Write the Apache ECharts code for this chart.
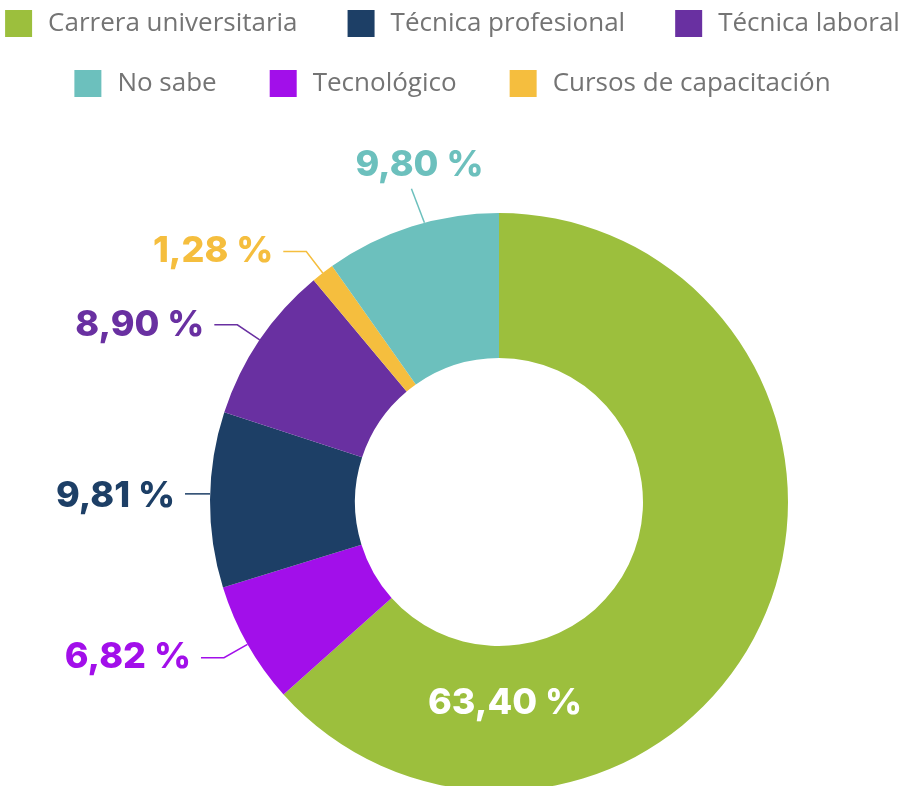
<!DOCTYPE html>
<html>
<head>
<meta charset="utf-8">
<script src="https://cdn.jsdelivr.net/npm/echarts@6/dist/echarts.min.js"></script>
<style>html,body{margin:0;padding:0;background:#fff}#c{width:905px;height:786px}</style>
</head>
<body>
<div id="c"></div>
<script>
// Data (clockwise order starting at top)
const categories = ['Carrera universitaria', 'Tecnológico', 'Técnica profesional', 'Técnica laboral', 'Cursos de capacitación', 'No sabe'];
const values = [63.40, 6.82, 9.81, 8.90, 1.28, 9.80];
const colors = ['#9CBF3D', '#A20FEA', '#1D3F66', '#6930A1', '#F5BE3E', '#6CC0BD'];
const legendRow1 = ['Carrera universitaria', 'Técnica profesional', 'Técnica laboral'];
const legendRow2 = ['No sabe', 'Tecnológico', 'Cursos de capacitación'];

const CX = 499, CY = 502, R_IN = 144, R_OUT = 289;
const fmt = v => v.toFixed(2).replace('.', ',') + ' %';

const chart = echarts.init(document.getElementById('c'), null, {renderer: 'canvas'});
const legendBase = {
  left: 'center', itemWidth: 27, itemHeight: 27, icon: 'rect',
  textStyle: {fontFamily: 'Open Sans', fontSize: 26, color: '#747474', padding: [0, 0, 0, 11]},
  selectedMode: false
};
chart.setOption({
  animation: false,
  color: colors,
  legend: [
    Object.assign({}, legendBase, {top: 5, itemGap: 50, data: legendRow1}),
    Object.assign({}, legendBase, {top: 65, itemGap: 53, data: legendRow2})
  ],
  series: [{
    type: 'pie',
    center: [CX, CY],
    radius: [R_IN, R_OUT],
    startAngle: 90,
    clockwise: true,
    avoidLabelOverlap: false,
    data: categories.map((n, i) => ({
      name: n, value: values[i],
      itemStyle: {color: colors[i]},
      label: i === 0 ? {position: 'inside', color: '#fff'} : {color: colors[i]}
    })),
    label: {
      formatter: p => fmt(p.value),
      fontFamily: 'Inter', fontWeight: 800, fontSize: 36,
      distanceToLabelLine: 10
    },
    labelLine: {length: 27, length2: 23, lineStyle: {width: 1.5}},
    labelLayout: function (p) {
      if (p.dataIndex === 0) {
        return {x: CX + 6, y: CY + 201, align: 'center', verticalAlign: 'middle'};
      }
      if (!p.labelLinePoints) return {};
      const q = p.labelLinePoints[0];
      if (p.dataIndex === 2) {
        const p0 = [q[0], q[1] - 6];
        const p2 = [p0[0] - 25, p0[1]];
        return {x: p2[0] - 10, y: p2[1] + 2, align: 'right', verticalAlign: 'middle',
                labelLinePoints: [p0, p0, p2]};
      }
      if (p.dataIndex === 5) {
        const px = q[0] + 13;
        const p0 = [px, CY - Math.sqrt(R_OUT * R_OUT - (px - CX) * (px - CX))];
        const p1 = [p0[0] - 13, p0[1] - 34];
        return {x: p1[0] + 8, y: p1[1] - 6, align: 'center', verticalAlign: 'bottom',
                labelLinePoints: [p0, p1, p1]};
      }
      return {};
    }
  }]
});
</script>
</body>
</html>
